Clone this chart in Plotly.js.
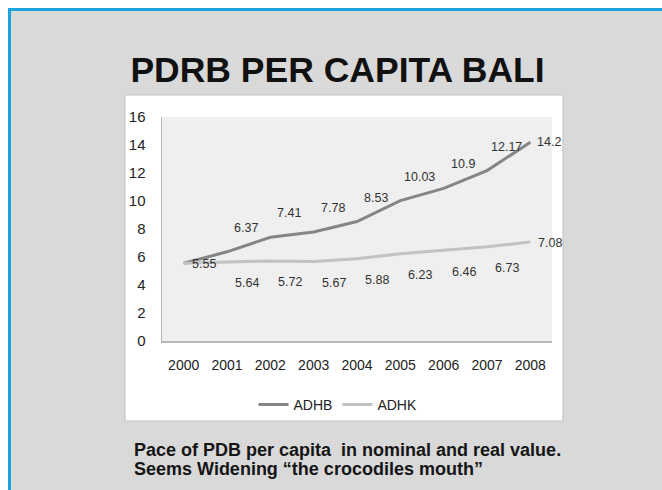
<!DOCTYPE html>
<html>
<head>
<meta charset="utf-8">
<script src="https://cdn.plot.ly/plotly-3.0.1.min.js"></script>
<style>
  html, body { margin: 0; padding: 0; background: #ffffff; }
  #chart { width: 662px; height: 490px; }
</style>
</head>
<body>
<div id="chart"></div>
<script>
// ---- data ----
const years = ["2000", "2001", "2002", "2003", "2004", "2005", "2006", "2007", "2008"];
const adhb = [5.55, 6.37, 7.41, 7.78, 8.53, 10.03, 10.9, 12.17, 14.2];
const adhk = [5.55, 5.64, 5.72, 5.67, 5.88, 6.23, 6.46, 6.73, 7.08];
const yTicks = [0, 2, 4, 6, 8, 10, 12, 14, 16];
const seriesNames = ["ADHB", "ADHK"];
const titleText = "PDRB PER CAPITA BALI";
const captionLines = [
  "Pace of PDB per capita&nbsp; in nominal and real value.",
  "Seems Widening \u201cthe crocodiles mouth\u201d"
];

// ---- layout geometry ----
const W = 662, H = 490;
const M = { l: 162, r: 110, t: 117, b: 149 };
const PW = W - M.l - M.r, PH = H - M.t - M.b;
const px = x => (x - M.l) / PW;
const py = y => (H - M.b - y) / PH;
const FONT = "Liberation Sans, Arial, Helvetica, sans-serif";

const traces = [
  { x: years, y: adhb, name: seriesNames[0], type: "scatter", mode: "lines",
    line: { color: "#858585", width: 3 }, hoverinfo: "skip" },
  { x: years, y: adhk, name: seriesNames[1], type: "scatter", mode: "lines",
    line: { color: "#c2c2c2", width: 3 }, hoverinfo: "skip" }
];

const annotations = [];
const last = years.length - 1;
adhb.forEach((v, i) => {
  if (i === 0) return; // overlaps with ADHK label at 2000
  annotations.push({ x: i, y: v, xref: "x", yref: "y", text: String(v),
    showarrow: false, xshift: 19, yshift: i === last ? 0 : 24,
    font: { family: FONT, size: 12.5, color: "#333" } });
});
adhk.forEach((v, i) => {
  annotations.push({ x: i, y: v, xref: "x", yref: "y", text: String(v),
    showarrow: false, xshift: 20, yshift: (i === 0 || i === last) ? -1 : -21,
    font: { family: FONT, size: 12.5, color: "#333" } });
});
const captionY = [449.5, 468.5];
captionLines.forEach((t, k) => {
  annotations.push({ xref: "paper", yref: "paper", x: px(132), y: py(captionY[k]),
    xanchor: "left", yanchor: "middle", align: "left", showarrow: false,
    text: t, font: { family: FONT, size: 18, color: "#151515", weight: "bold" } });
});

const shapes = [
  { type: "rect", xref: "paper", yref: "paper", x0: px(8), x1: px(662), y0: py(490), y1: py(8),
    fillcolor: "#d9d9d9", line: { width: 0 }, layer: "below" },
  { type: "rect", xref: "paper", yref: "paper", x0: px(8), x1: px(662), y0: py(11), y1: py(8),
    fillcolor: "#1ca2dc", line: { width: 0 }, layer: "below" },
  { type: "rect", xref: "paper", yref: "paper", x0: px(8), x1: px(11), y0: py(490), y1: py(8),
    fillcolor: "#1ca2dc", line: { width: 0 }, layer: "below" },
  { type: "rect", xref: "paper", yref: "paper", x0: px(125), x1: px(563), y0: py(421), y1: py(95),
    fillcolor: "#ffffff", line: { color: "#c6c6c6", width: 1.2 }, layer: "below" },
  { type: "rect", xref: "paper", yref: "paper", x0: 0, x1: 1, y0: 0, y1: 1,
    fillcolor: "#efefef", line: { width: 0 }, layer: "below" }
];

const layout = {
  width: W, height: H,
  margin: M,
  paper_bgcolor: "#ffffff",
  plot_bgcolor: "rgba(0,0,0,0)",
  font: { family: FONT, color: "#222" },
  title: { text: titleText, xref: "container", yref: "container",
    x: 337.5 / W, xanchor: "center", y: 1 - 70 / H, yanchor: "middle",
    font: { family: FONT, size: 35.5, color: "#111", weight: "bold" } },
  xaxis: { type: "category", range: [-0.5, 8.5], showgrid: false, zeroline: false,
    showline: true, linecolor: "#b8b8b8", linewidth: 1.5,
    ticks: "outside", ticklen: 11, tickcolor: "rgba(0,0,0,0)",
    tickfont: { family: FONT, size: 14, color: "#222" }, fixedrange: true },
  yaxis: { range: [0, 16], tickvals: yTicks, ticktext: yTicks.map(String),
    showgrid: false, zeroline: false, showline: true, linecolor: "#b8b8b8", linewidth: 1.5,
    ticks: "outside", ticklen: 12, tickcolor: "rgba(0,0,0,0)",
    tickfont: { family: FONT, size: 15, color: "#222" }, fixedrange: true },
  showlegend: true,
  legend: { orientation: "h", xref: "paper", yref: "paper",
    x: px(338), xanchor: "center", y: py(405), yanchor: "middle",
    bgcolor: "rgba(0,0,0,0)", font: { family: FONT, size: 14, color: "#222" },
    itemwidth: 30, tracegroupgap: 0 },
  shapes: shapes,
  annotations: annotations
};

Plotly.newPlot("chart", traces, layout, { displayModeBar: false, staticPlot: true });
</script>
</body>
</html>
